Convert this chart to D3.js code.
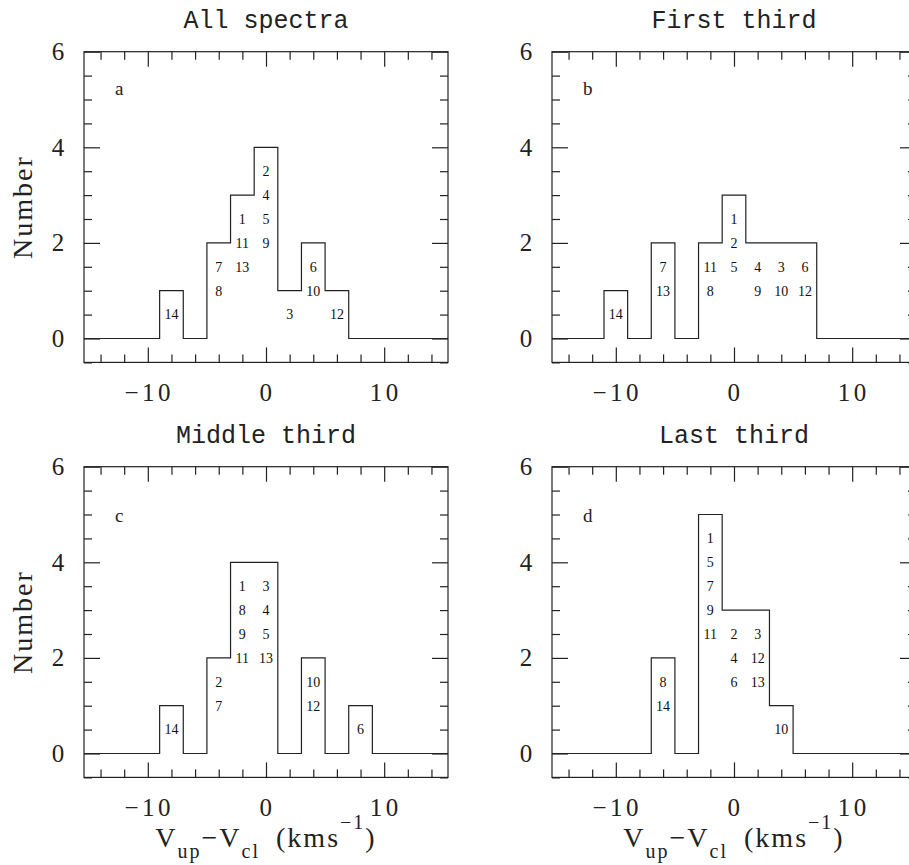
<!DOCTYPE html>
<html>
<head>
<meta charset="utf-8">
<script src="https://cdn.jsdelivr.net/npm/d3@7"></script>
<style>
  body { margin: 0; background: #fff; }
  svg { display: block; }
</style>
</head>
<body>
<svg id="chart" width="909" height="865"></svg>
<script>
// Velocity bins (2 km/s wide), given by their centres
const binCenters = [-10, -8, -6, -4, -2, 0, 2, 4, 6, 8];

// Number of spectra in each bin, per subset
const countsAll    = [0, 1, 0, 2, 3, 4, 1, 2, 1, 0];
const countsFirst  = [1, 0, 2, 0, 2, 3, 2, 2, 2, 0];
const countsMiddle = [0, 1, 0, 2, 4, 4, 0, 2, 0, 1];
const countsLast   = [0, 0, 2, 0, 5, 3, 3, 1, 0, 0];

// Spectrum identifiers stacked in each bin (listed top to bottom)
const idsAll    = [[], [14], [], [7, 8], [1, 11, 13], [2, 4, 5, 9], [3], [6, 10], [12], []];
const idsFirst  = [[14], [], [7, 13], [], [11, 8], [1, 2, 5], [4, 9], [3, 10], [6, 12], []];
const idsMiddle = [[], [14], [], [2, 7], [1, 8, 9, 11], [3, 4, 5, 13], [], [10, 12], [], [6]];
const idsLast   = [[], [], [8, 14], [], [1, 5, 7, 9, 11], [2, 4, 6], [3, 12, 13], [10], [], []];

const panelTitles  = ["All spectra", "First third", "Middle third", "Last third"];
const panelLetters = ["a", "b", "c", "d"];
const letterLevel  = [5.1, 5.1, 4.85, 4.85];

const xMajorTicks = [-10, 0, 10];
const xMinorTicks = [-14, -12, -8, -6, -4, -2, 2, 4, 6, 8, 12, 14];
const yMajorTicks = [0, 2, 4, 6];
const yMinorTicks = [-0.5, 0.5, 1, 1.5, 2.5, 3, 3.5, 4.5, 5, 5.5];

const binWidth = 2;
const xDomain = [-15.4, 15.4];
const yDomain = [-0.5, 6];

const panels = [
  { counts: countsAll,    ids: idsAll,    col: 0, row: 0 },
  { counts: countsFirst,  ids: idsFirst,  col: 1, row: 0 },
  { counts: countsMiddle, ids: idsMiddle, col: 0, row: 1 },
  { counts: countsLast,   ids: idsLast,   col: 1, row: 1 }
];

const W = 364, H = 310.7;
const lefts = [84, 552], tops = [51.7, 466.7];
const ink = "#222";
const serif = "'Liberation Serif', 'DejaVu Serif', serif";
const mono = "'Liberation Mono', 'DejaVu Sans Mono', monospace";

const svg = d3.select("#chart");
const x = d3.scaleLinear().domain(xDomain).range([0, W]);
const y = d3.scaleLinear().domain(yDomain).range([H, 0]);

function fmt(v) { return v < 0 ? "\u2212" + Math.abs(v) : String(v); }

panels.forEach((p, i) => {
  const g = svg.append("g")
    .attr("transform", `translate(${lefts[p.col]},${tops[p.row]})`);

  // frame
  g.append("rect")
    .attr("width", W).attr("height", H)
    .attr("fill", "none").attr("stroke", ink).attr("stroke-width", 1.2);

  // inward ticks on all four sides
  const tickSets = [
    [d3.axisBottom(x), H, xMajorTicks, xMinorTicks, 15, 8, "x"],
    [d3.axisTop(x),    0, xMajorTicks, xMinorTicks, 15, 8, "x"],
    [d3.axisLeft(y),   0, yMajorTicks, yMinorTicks, 16, 8, "y"],
    [d3.axisRight(y),  W, yMajorTicks, yMinorTicks, 16, 8, "y"]
  ];
  tickSets.forEach(([axisFn, off, major, minor, lMaj, lMin, dir]) => {
    [[major, lMaj], [minor, lMin]].forEach(([vals, len]) => {
      const ax = g.append("g")
        .attr("transform", dir === "x" ? `translate(0,${off})` : `translate(${off},0)`)
        .call(axisFn.tickValues(vals).tickSize(-len).tickSizeOuter(0).tickFormat(""));
      ax.select(".domain").remove();
      ax.selectAll("line").attr("stroke", ink).attr("stroke-width", 1.2);
    });
  });

  // tick labels
  g.selectAll(".xl").data(xMajorTicks).enter().append("text")
    .attr("x", d => x(d) + 1.5).attr("y", H + 39)
    .attr("text-anchor", "middle")
    .attr("font-family", serif).attr("font-size", 25).attr("letter-spacing", 3.5)
    .attr("fill", ink)
    .text(fmt);
  g.selectAll(".yl").data(yMajorTicks).enter().append("text")
    .attr("x", -26).attr("y", d => y(d) + 8.5)
    .attr("text-anchor", "middle")
    .attr("font-family", serif).attr("font-size", 25).attr("fill", ink)
    .text(fmt);

  // histogram outline, running along zero beyond the occupied bins
  const lastEdge = binCenters[binCenters.length - 1] + binWidth / 2;
  const pts = [[xDomain[0], 0]];
  binCenters.forEach((c, k) => {
    pts.push([c - binWidth / 2, p.counts[k]]);
    pts.push([c + binWidth / 2, p.counts[k]]);
  });
  pts.push([lastEdge, 0]);
  pts.push([xDomain[1], 0]);
  const stepped = [pts[0]];
  for (let k = 1; k < pts.length; k++) {
    const prev = stepped[stepped.length - 1];
    stepped.push([pts[k][0], prev[1]]);
    stepped.push(pts[k]);
  }
  g.append("path")
    .attr("d", d3.line().x(d => x(d[0])).y(d => y(d[1]))(stepped))
    .attr("fill", "none").attr("stroke", ink).attr("stroke-width", 1.2);

  // spectrum numbers inside each bin
  const labels = [];
  binCenters.forEach((c, k) => {
    p.ids[k].forEach((id, j) => {
      labels.push({ x: c, y: p.counts[k] - 0.5 - 0.5 * j, t: id });
    });
  });
  g.selectAll(".id").data(labels).enter().append("text")
    .attr("x", d => x(d.x)).attr("y", d => y(d.y))
    .attr("dy", "0.35em")
    .attr("text-anchor", "middle")
    .attr("font-family", serif).attr("font-size", 14).attr("fill", "#111")
    .text(d => d.t);

  // panel letter
  g.append("text")
    .attr("x", 31).attr("y", y(letterLevel[i]))
    .attr("font-family", serif).attr("font-size", 19).attr("fill", ink)
    .text(panelLetters[i]);

  // panel title
  g.append("text")
    .attr("x", W / 2).attr("y", -24)
    .attr("text-anchor", "middle")
    .attr("font-family", mono).attr("font-size", 25).attr("fill", ink)
    .text(panelTitles[i]);

  // y-axis title on the left column
  if (p.col === 0) {
    g.append("text")
      .attr("transform", `translate(-52,${H / 2}) rotate(-90)`)
      .attr("text-anchor", "middle")
      .attr("font-family", serif).attr("font-size", 28).attr("fill", ink)
      .attr("letter-spacing", 2)
      .text("Number");
  }

  // x-axis title on the bottom row
  if (p.row === 1) {
    const t = g.append("text")
      .attr("x", W / 2).attr("y", H + 70)
      .attr("text-anchor", "middle")
      .attr("font-family", serif).attr("font-size", 28).attr("letter-spacing", 2)
      .attr("fill", ink);
    t.append("tspan").text("V");
    t.append("tspan").attr("font-size", 20).attr("dy", 11).text("up");
    t.append("tspan").attr("dy", -11).text("\u2212V");
    t.append("tspan").attr("font-size", 20).attr("dy", 11).text("cl");
    t.append("tspan").attr("dy", -11).text("\u2002(kms");
    t.append("tspan").attr("font-size", 20).attr("dy", -18).text("\u22121");
    t.append("tspan").attr("dy", 18).text(")");
  }
});
</script>
</body>
</html>
